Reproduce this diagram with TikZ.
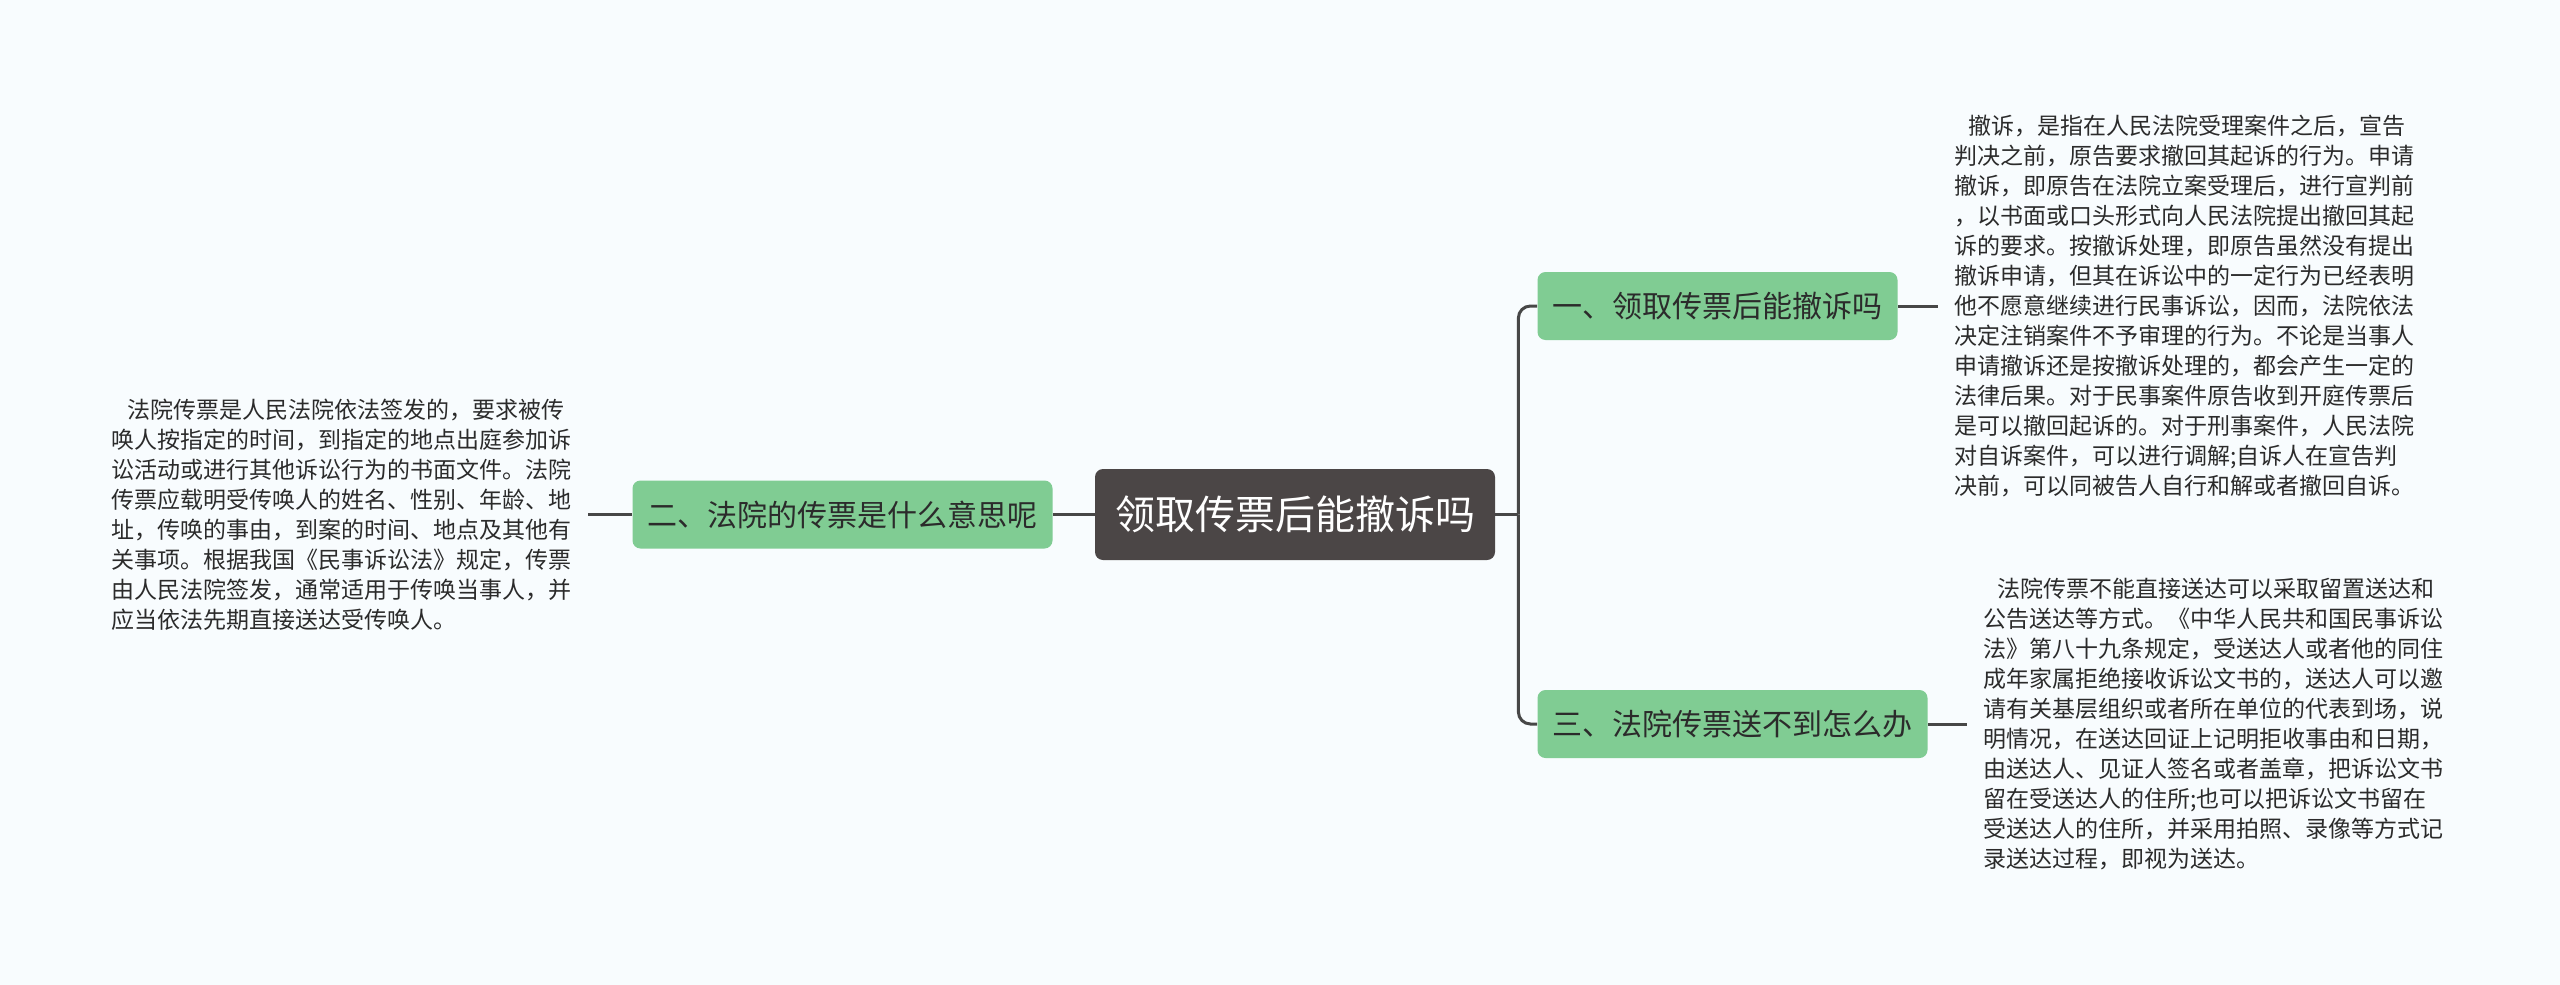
\documentclass[tikz,border=0pt]{standalone}
\usepackage{fontspec}
\setmainfont{Noto Sans CJK SC}
\usetikzlibrary{positioning}
\definecolor{bgcol}{HTML}{F8FCFE}
\definecolor{rootcol}{HTML}{4B4646}
\definecolor{topiccol}{HTML}{80CC93}
\definecolor{linecol}{HTML}{474747}
\definecolor{txtcol}{HTML}{2B2B2B}
\begin{document}
\begin{tikzpicture}[x=0.5pt, y=-0.5pt,
  root/.style={rectangle, rounded corners=4pt, fill=rootcol, text=white, font=\fontsize{20}{24}\selectfont, minimum width=199pt, minimum height=45.5pt, inner xsep=10pt},
  topic/.style={rectangle, rounded corners=4pt, fill=topiccol, text=txtcol, font=\fontsize{15}{18}\selectfont, minimum height=34pt, inner xsep=7.5pt},
  note/.style={align=left, text=txtcol, font=\fontsize{11.5}{15}\selectfont, inner xsep=8pt, inner ysep=0pt},
  branch/.style={draw=linecol, line width=1.5pt}]
  \fill[bgcol] (0,0) rectangle (2560,985);
  \useasboundingbox (0,0) rectangle (2560,985);

  % Main nodes
  \node[root] (root) at (1295, 514.5) {领取传票后能撤诉吗};
  \node[topic] (n2) at (842.5, 514.5) {二、法院的传票是什么意思呢};
  \node[topic] (n1) at (1717.5, 306) {一、领取传票后能撤诉吗};
  \node[topic] (n3) at (1732.5, 724) {三、法院传票送不到怎么办};

  % Notes
  \node[note, left=22pt of n2] (t2) {\hspace*{8pt}法院传票是人民法院依法签发的，要求被传\\唤人按指定的时间，到指定的地点出庭参加诉\\讼活动或进行其他诉讼行为的书面文件。法院\\传票应载明受传唤人的姓名、性别、年龄、地\\址，传唤的事由，到案的时间、地点及其他有\\关事项。根据我国《民事诉讼法》规定，传票\\由人民法院签发，通常适用于传唤当事人，并\\应当依法先期直接送达受传唤人。};
  \node[note, right=20pt of n1] (t1) {\hspace*{7pt}撤诉，是指在人民法院受理案件之后，宣告\\判决之前，原告要求撤回其起诉的行为。申请\\撤诉，即原告在法院立案受理后，进行宣判前\\，以书面或口头形式向人民法院提出撤回其起\\诉的要求。按撤诉处理，即原告虽然没有提出\\撤诉申请，但其在诉讼中的一定行为已经表明\\他不愿意继续进行民事诉讼，因而，法院依法\\决定注销案件不予审理的行为。不论是当事人\\申请撤诉还是按撤诉处理的，都会产生一定的\\法律后果。对于民事案件原告收到开庭传票后\\是可以撤回起诉的。对于刑事案件，人民法院\\对自诉案件，可以进行调解;自诉人在宣告判\\决前，可以同被告人自行和解或者撤回自诉。};
  \node[note, right=19.5pt of n3] (t3) {\hspace*{7pt}法院传票不能直接送达可以采取留置送达和\\公告送达等方式。《中华人民共和国民事诉讼\\法》第八十九条规定，受送达人或者他的同住\\成年家属拒绝接收诉讼文书的，送达人可以邀\\请有关基层组织或者所在单位的代表到场，说\\明情况，在送达回证上记明拒收事由和日期，\\由送达人、见证人签名或者盖章，把诉讼文书\\留在受送达人的住所;也可以把诉讼文书留在\\受送达人的住所，并采用拍照、录像等方式记\\录送达过程，即视为送达。};

  % Branches
  \coordinate[right=11.5pt of root] (fork);
  \draw[branch] (root.west) -- (n2.east);
  \draw[branch] (root.east) -- (fork);
  \draw[branch, rounded corners=6pt] (fork) |- (n1.west);
  \draw[branch, rounded corners=6pt] (fork) |- (n3.west);
  \draw[branch] (n2.west) -- (t2.east);
  \draw[branch] (n1.east) -- (t1.west);
  \draw[branch] (n3.east) -- (t3.west);
\end{tikzpicture}
\end{document}
